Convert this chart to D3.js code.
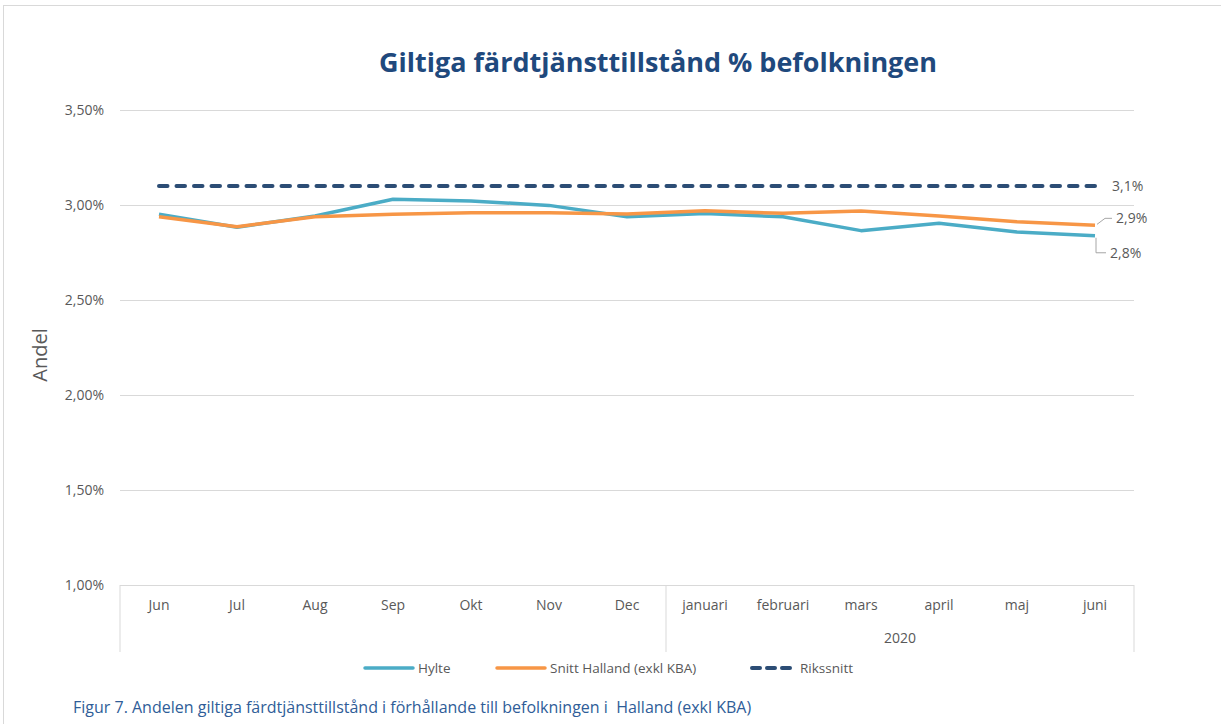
<!DOCTYPE html>
<html>
<head>
<meta charset="utf-8">
<script src="https://cdn.jsdelivr.net/npm/d3@7"></script>
<style>
  body { margin: 0; background: #fff; }
  svg { display: block; font-family: "Open Sans", "Noto Sans", sans-serif; }
</style>
</head>
<body>
<svg id="chart" width="1221" height="724"></svg>
<script>
// Data
const months = ["Jun", "Jul", "Aug", "Sep", "Okt", "Nov", "Dec",
  "januari", "februari", "mars", "april", "maj", "juni"];
const hylte = [2.951, 2.883, 2.942, 3.030, 3.021, 2.998, 2.938,
  2.955, 2.938, 2.865, 2.904, 2.858, 2.838];
const snittHalland = [2.938, 2.886, 2.938, 2.951, 2.959, 2.959, 2.953,
  2.970, 2.956, 2.968, 2.942, 2.912, 2.893];
const rikssnitt = [3.1, 3.1, 3.1, 3.1, 3.1, 3.1, 3.1,
  3.1, 3.1, 3.1, 3.1, 3.1, 3.1];
const yTicks = [1.0, 1.5, 2.0, 2.5, 3.0, 3.5];
const yearGroups = [
  { label: "", from: "Jun", to: "Dec" },
  { label: "2020", from: "januari", to: "juni" },
];
const endLabels = ["2,8%", "2,9%", "3,1%"];

const svg = d3.select("#chart");
const grey = "#595959";
const navy = "#1f497d";

const margin = { top: 110, left: 120, right: 87, bottom: 139 };
const width = 1221 - margin.left - margin.right; // 1014
const height = 724 - margin.top - margin.bottom; // 475

// outer chart frame
svg.append("rect")
  .attr("x", 3.5).attr("y", 5.5)
  .attr("width", 1240).attr("height", 740)
  .attr("fill", "none").attr("stroke", "#d9d9d9");

// Title
svg.append("text")
  .attr("x", 658).attr("y", 72)
  .attr("text-anchor", "middle")
  .attr("fill", navy)
  .attr("font-size", 27)
  .attr("font-weight", "bold")
  .attr("textLength", 558)
  .attr("lengthAdjust", "spacingAndGlyphs")
  .text("Giltiga färdtjänsttillstånd % befolkningen");

const g = svg.append("g")
  .attr("transform", `translate(${margin.left},${margin.top})`);

// Scales
const x = d3.scaleBand().domain(months).range([0, width]).padding(0);
const cx = (d) => x(d) + x.bandwidth() / 2;
const y = d3.scaleLinear().domain([1, 3.5]).range([height, 0]);

// Gridlines + y axis
const yAxis = g.append("g")
  .call(d3.axisLeft(y)
    .tickValues(yTicks)
    .tickSize(-width)
    .tickPadding(16)
    .tickFormat((d) => d.toFixed(2).replace(".", ",") + "%"));
yAxis.select(".domain").remove();
yAxis.selectAll(".tick line").attr("stroke", "#d9d9d9");
yAxis.selectAll(".tick text")
  .attr("fill", grey)
  .attr("font-size", 14)
  .attr("font-family", "'Open Sans', sans-serif");

// Y label
svg.append("text")
  .attr("transform", "translate(47,355) rotate(-90)")
  .attr("text-anchor", "middle")
  .attr("fill", grey)
  .attr("font-size", 20)
  .text("Andel");

// Category axis (multi-level box)
const xAxis = g.append("g")
  .attr("transform", `translate(0,${height})`)
  .call(d3.axisBottom(x).tickSize(0).tickPadding(15));
xAxis.select(".domain").remove();
xAxis.selectAll(".tick text")
  .attr("fill", grey)
  .attr("font-size", 14)
  .attr("font-family", "'Open Sans', sans-serif");

const boxBottom = 67;
const axisLines = g.append("g")
  .attr("transform", `translate(0,${height})`)
  .attr("stroke", "#d9d9d9");
const bounds = [x(yearGroups[0].from), x(yearGroups[1].from),
  x(yearGroups[1].to) + x.bandwidth()];
bounds.forEach((bx) => {
  axisLines.append("line")
    .attr("x1", bx).attr("x2", bx)
    .attr("y1", 0).attr("y2", boxBottom);
});
yearGroups.forEach((gr) => {
  const mid = (x(gr.from) + x(gr.to) + x.bandwidth()) / 2;
  g.append("text")
    .attr("x", mid).attr("y", height + 58)
    .attr("text-anchor", "middle")
    .attr("fill", grey)
    .attr("font-size", 14)
    .text(gr.label);
});

// Lines
const line = d3.line()
  .x((d, i) => cx(months[i]))
  .y((d) => y(d));

g.append("path")
  .datum(rikssnitt)
  .attr("fill", "none")
  .attr("stroke", "#2c4d75")
  .attr("stroke-width", 4)
  .attr("stroke-linecap", "round")
  .attr("stroke-dasharray", "8.5 9")
  .attr("d", line);

g.append("path")
  .datum(hylte)
  .attr("fill", "none")
  .attr("stroke", "#4bacc6")
  .attr("stroke-width", 3.5)
  .attr("stroke-linejoin", "round")
  .attr("d", line);

g.append("path")
  .datum(snittHalland)
  .attr("fill", "none")
  .attr("stroke", "#f79646")
  .attr("stroke-width", 3.5)
  .attr("stroke-linejoin", "round")
  .attr("d", line);

// End data labels with leader lines
const last = months.length - 1;
const lx = cx(months[last]);
const leader = g.append("g")
  .attr("fill", "none").attr("stroke", "#a6a6a6").attr("stroke-width", 1);

// Rikssnitt
g.append("text")
  .attr("x", lx + 17).attr("y", y(rikssnitt[last]) + 5)
  .attr("fill", grey).attr("font-size", 14)
  .text(endLabels[2]);

// Snitt Halland
const yo = y(snittHalland[last]);
leader.append("path")
  .attr("d", `M${lx + 2},${yo - 1} L${lx + 10},${yo - 7} L${lx + 17},${yo - 7}`);
g.append("text")
  .attr("x", lx + 21).attr("y", yo - 2)
  .attr("fill", grey).attr("font-size", 14)
  .text(endLabels[1]);

// Hylte
const yc = y(hylte[last]);
leader.append("path")
  .attr("d", `M${lx + 1},${yc + 2} L${lx + 1},${yc + 17} L${lx + 11},${yc + 17}`);
g.append("text")
  .attr("x", lx + 15).attr("y", yc + 22)
  .attr("fill", grey).attr("font-size", 14)
  .text(endLabels[0]);

// Legend
const legend = [
  { name: "Hylte", color: "#4bacc6", x: 365, len: 48, dash: null, w: 3.5 },
  { name: "Snitt Halland (exkl KBA)", color: "#f79646", x: 497, len: 48, dash: null, w: 3.5 },
  { name: "Rikssnitt", color: "#2c4d75", x: 752, len: 43, dash: "8 7", w: 4 },
];
const lg = svg.append("g").attr("transform", "translate(0,668)");
legend.forEach((l) => {
  lg.append("line")
    .attr("x1", l.x).attr("x2", l.x + l.len)
    .attr("stroke", l.color)
    .attr("stroke-width", l.w)
    .attr("stroke-linecap", "round")
    .attr("stroke-dasharray", l.dash);
  lg.append("text")
    .attr("x", l.x + l.len + 5).attr("y", 5)
    .attr("fill", grey).attr("font-size", 13.5)
    .text(l.name);
});

// Caption
svg.append("text")
  .attr("x", 73).attr("y", 713)
  .attr("fill", "#2f5d98")
  .attr("font-size", 16)
  .attr("xml:space", "preserve")
  .text("Figur 7. Andelen giltiga färdtjänsttillstånd i förhållande till befolkningen i  Halland (exkl KBA)");
</script>
</body>
</html>
